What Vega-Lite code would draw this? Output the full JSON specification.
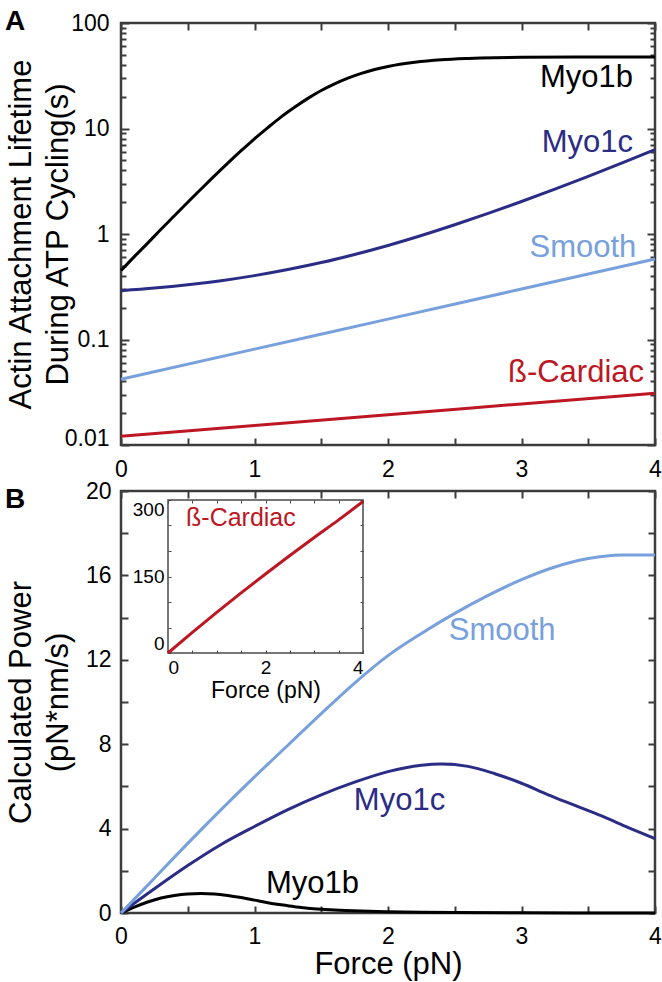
{
  "$schema": "https://vega.github.io/schema/vega-lite/v6.json",
  "padding": {"left": 3, "top": 6, "right": 5, "bottom": 0},
  "background": "white",
  "config": {
    "font": "Liberation Sans",
    "view": {"stroke": "#3c3c3c", "strokeWidth": 2.5},
    "axis": {
      "domain": false, "grid": false, "tickColor": "#3c3c3c", "tickWidth": 2,
      "labelFont": "Liberation Sans", "labelFontSize": 23, "labelColor": "#000000",
      "titleFont": "Liberation Sans", "titleFontSize": 31, "titleFontWeight": "normal", "titleColor": "#000000",
      "labelFlush": false, "labelOverlap": false
    },
    "text": {"font": "Liberation Sans"}
  },
  "datasets": {
    "lifetime": [
      {"series": "Myo1b", "force": 0, "value": 0.45}, {"series": "Myo1b", "force": 0.1, "value": 0.61}, {"series": "Myo1b", "force": 0.2, "value": 0.82},
      {"series": "Myo1b", "force": 0.3, "value": 1.11}, {"series": "Myo1b", "force": 0.4, "value": 1.49}, {"series": "Myo1b", "force": 0.5, "value": 2.0},
      {"series": "Myo1b", "force": 0.6, "value": 2.67}, {"series": "Myo1b", "force": 0.7, "value": 3.56}, {"series": "Myo1b", "force": 0.8, "value": 4.7},
      {"series": "Myo1b", "force": 0.9, "value": 6.16}, {"series": "Myo1b", "force": 1.0, "value": 7.99}, {"series": "Myo1b", "force": 1.1, "value": 10.2},
      {"series": "Myo1b", "force": 1.2, "value": 12.9}, {"series": "Myo1b", "force": 1.3, "value": 15.9}, {"series": "Myo1b", "force": 1.4, "value": 19.3},
      {"series": "Myo1b", "force": 1.5, "value": 22.9}, {"series": "Myo1b", "force": 1.6, "value": 26.5}, {"series": "Myo1b", "force": 1.7, "value": 30.0},
      {"series": "Myo1b", "force": 1.8, "value": 33.3}, {"series": "Myo1b", "force": 1.9, "value": 36.2}, {"series": "Myo1b", "force": 2.0, "value": 38.7},
      {"series": "Myo1b", "force": 2.2, "value": 42.4}, {"series": "Myo1b", "force": 2.4, "value": 44.8}, {"series": "Myo1b", "force": 2.6, "value": 46.1},
      {"series": "Myo1b", "force": 2.8, "value": 46.9}, {"series": "Myo1b", "force": 3.0, "value": 47.3}, {"series": "Myo1b", "force": 3.5, "value": 47.6},
      {"series": "Myo1b", "force": 4.0, "value": 47.7},
      {"series": "Myo1c", "force": 0, "value": 0.29}, {"series": "Myo1c", "force": 0.25, "value": 0.307}, {"series": "Myo1c", "force": 0.5, "value": 0.33},
      {"series": "Myo1c", "force": 0.75, "value": 0.361}, {"series": "Myo1c", "force": 1.0, "value": 0.403}, {"series": "Myo1c", "force": 1.25, "value": 0.46},
      {"series": "Myo1c", "force": 1.5, "value": 0.536}, {"series": "Myo1c", "force": 1.75, "value": 0.64}, {"series": "Myo1c", "force": 2.0, "value": 0.779},
      {"series": "Myo1c", "force": 2.25, "value": 0.968}, {"series": "Myo1c", "force": 2.5, "value": 1.223}, {"series": "Myo1c", "force": 2.75, "value": 1.567},
      {"series": "Myo1c", "force": 3.0, "value": 2.031}, {"series": "Myo1c", "force": 3.25, "value": 2.66}, {"series": "Myo1c", "force": 3.5, "value": 3.52},
      {"series": "Myo1c", "force": 3.75, "value": 4.7}, {"series": "Myo1c", "force": 4.0, "value": 6.3},
      {"series": "Smooth", "force": 0, "value": 0.042}, {"series": "Smooth", "force": 1, "value": 0.081}, {"series": "Smooth", "force": 2, "value": 0.156},
      {"series": "Smooth", "force": 3, "value": 0.301}, {"series": "Smooth", "force": 4, "value": 0.58},
      {"series": "ß-Cardiac", "force": 0, "value": 0.0121}, {"series": "ß-Cardiac", "force": 1, "value": 0.0153}, {"series": "ß-Cardiac", "force": 2, "value": 0.0194},
      {"series": "ß-Cardiac", "force": 3, "value": 0.0245}, {"series": "ß-Cardiac", "force": 4, "value": 0.031}
    ],
    "labelsA": [
      {"series": "Myo1b", "force": 3.835, "value": 24.7},
      {"series": "Myo1c", "force": 3.835, "value": 5.98},
      {"series": "Smooth", "force": 3.86, "value": 0.605},
      {"series": "ß-Cardiac", "force": 3.918, "value": 0.0395}
    ],
    "power": [
      {"series": "Myo1b", "force": 0, "value": 0}, {"series": "Myo1b", "force": 0.1, "value": 0.28}, {"series": "Myo1b", "force": 0.2, "value": 0.52},
      {"series": "Myo1b", "force": 0.3, "value": 0.71}, {"series": "Myo1b", "force": 0.4, "value": 0.83}, {"series": "Myo1b", "force": 0.5, "value": 0.9},
      {"series": "Myo1b", "force": 0.6, "value": 0.92}, {"series": "Myo1b", "force": 0.7, "value": 0.9}, {"series": "Myo1b", "force": 0.8, "value": 0.83},
      {"series": "Myo1b", "force": 0.9, "value": 0.73}, {"series": "Myo1b", "force": 1.0, "value": 0.61}, {"series": "Myo1b", "force": 1.1, "value": 0.49},
      {"series": "Myo1b", "force": 1.2, "value": 0.39}, {"series": "Myo1b", "force": 1.3, "value": 0.3}, {"series": "Myo1b", "force": 1.4, "value": 0.23},
      {"series": "Myo1b", "force": 1.5, "value": 0.18}, {"series": "Myo1b", "force": 1.6, "value": 0.14}, {"series": "Myo1b", "force": 1.8, "value": 0.09},
      {"series": "Myo1b", "force": 2.0, "value": 0.06}, {"series": "Myo1b", "force": 2.25, "value": 0.035}, {"series": "Myo1b", "force": 2.5, "value": 0.02},
      {"series": "Myo1b", "force": 3.0, "value": 0.006}, {"series": "Myo1b", "force": 3.5, "value": 0.002}, {"series": "Myo1b", "force": 4.0, "value": 0.0005},
      {"series": "Myo1c", "force": 0, "value": 0}, {"series": "Myo1c", "force": 0.25, "value": 1.15}, {"series": "Myo1c", "force": 0.5, "value": 2.25},
      {"series": "Myo1c", "force": 0.75, "value": 3.25}, {"series": "Myo1c", "force": 1.0, "value": 4.1}, {"series": "Myo1c", "force": 1.25, "value": 4.9},
      {"series": "Myo1c", "force": 1.5, "value": 5.6}, {"series": "Myo1c", "force": 1.75, "value": 6.2}, {"series": "Myo1c", "force": 2.0, "value": 6.7},
      {"series": "Myo1c", "force": 2.25, "value": 7.0}, {"series": "Myo1c", "force": 2.4, "value": 7.06}, {"series": "Myo1c", "force": 2.6, "value": 6.95},
      {"series": "Myo1c", "force": 2.8, "value": 6.6}, {"series": "Myo1c", "force": 3.0, "value": 6.15}, {"series": "Myo1c", "force": 3.2, "value": 5.6},
      {"series": "Myo1c", "force": 3.4, "value": 5.1}, {"series": "Myo1c", "force": 3.6, "value": 4.6}, {"series": "Myo1c", "force": 3.8, "value": 4.05},
      {"series": "Myo1c", "force": 4.0, "value": 3.52},
      {"series": "Smooth", "force": 0, "value": 0}, {"series": "Smooth", "force": 0.25, "value": 1.65}, {"series": "Smooth", "force": 0.5, "value": 3.3},
      {"series": "Smooth", "force": 0.75, "value": 4.9}, {"series": "Smooth", "force": 1.0, "value": 6.45}, {"series": "Smooth", "force": 1.25, "value": 7.95},
      {"series": "Smooth", "force": 1.5, "value": 9.45}, {"series": "Smooth", "force": 1.75, "value": 10.9}, {"series": "Smooth", "force": 2.0, "value": 12.2},
      {"series": "Smooth", "force": 2.25, "value": 13.25}, {"series": "Smooth", "force": 2.5, "value": 14.2}, {"series": "Smooth", "force": 2.75, "value": 15.05},
      {"series": "Smooth", "force": 3.0, "value": 15.8}, {"series": "Smooth", "force": 3.25, "value": 16.4}, {"series": "Smooth", "force": 3.5, "value": 16.8},
      {"series": "Smooth", "force": 3.75, "value": 16.97}, {"series": "Smooth", "force": 4.0, "value": 16.97}
    ],
    "labelsB": [
      {"series": "Smooth", "force": 2.855, "value": 12.94},
      {"series": "Myo1c", "force": 2.086, "value": 4.9},
      {"series": "Myo1b", "force": 1.434, "value": 0.95}
    ],
    "cardiacPower": [
      {"force": 0, "value": 0}, {"force": 0.5, "value": 40.3}, {"force": 1.0, "value": 79.5}, {"force": 1.5, "value": 117.8},
      {"force": 2.0, "value": 155}, {"force": 2.5, "value": 191.3}, {"force": 3.0, "value": 226.5}, {"force": 3.5, "value": 261}, {"force": 4.0, "value": 297}
    ],
    "labelInset": [
      {"series": "ß-Cardiac", "force": 0.37, "value": 249}
    ]
  },
  "spacing": -5,
  "vconcat": [
    {
      "width": 534,
      "height": 422,
      "title": {"text": "A", "anchor": "start", "frame": "bounds", "fontSize": 28, "fontWeight": "bold", "color": "#000000", "offset": -24},
      "layer": [
        {
          "data": {"name": "lifetime"},
          "transform": [{"filter": "datum.series == 'Myo1b'"}],
          "mark": {"type": "line", "strokeWidth": 3, "interpolate": "monotone"},
          "encoding": {
            "x": {"field": "force", "type": "quantitative",
              "scale": {"domain": [0, 4], "nice": false, "zero": false},
              "axis": {"orient": "bottom", "offset": -7, "tickSize": 7, "labelPadding": 13, "title": null,
                "values": [0, 0.5, 1, 1.5, 2, 2.5, 3, 3.5, 4],
                "labelExpr": "datum.value % 1 == 0 ? format(datum.value, '~g') : ''"}},
            "y": {"field": "value", "type": "quantitative",
              "scale": {"type": "log", "domain": [0.01, 100], "nice": false},
              "axis": {"orient": "left", "offset": -8, "tickSize": 8, "labelPadding": 12,
                "title": ["Actin Attachment Lifetime", "During ATP Cycling(s)"],
                "titleLineHeight": 37, "titlePadding": 7, "minExtent": 48, "maxExtent": 48,
                "values": [0.01, 0.1, 1, 10, 100],
                "labelExpr": "datum.value == 0.01 ? '0.01' : datum.value == 0.1 ? '0.1' : datum.value == 1 ? '1' : datum.value == 10 ? '10' : '100'",
                "labelBaseline": {"condition": {"test": "datum.value == 0.01", "value": "alphabetic"}, "value": "middle"}}},
            "color": {"field": "series", "type": "nominal",
              "scale": {"domain": ["Myo1b", "Myo1c", "Smooth", "ß-Cardiac"], "range": ["#000000", "#2b2c85", "#77a0dc", "#bd1723"]},
              "legend": null}
          }
        },
        {
          "data": {"name": "lifetime"},
          "transform": [{"filter": "datum.series == 'Myo1c'"}],
          "mark": {"type": "line", "strokeWidth": 3, "interpolate": "monotone"},
          "encoding": {
            "x": {"field": "force", "type": "quantitative",
              "axis": {"orient": "top", "offset": -7, "tickSize": 7, "labels": false, "title": null,
                "values": [0, 0.5, 1, 1.5, 2, 2.5, 3, 3.5, 4]}},
            "y": {"field": "value", "type": "quantitative",
              "axis": {"orient": "right", "offset": -8, "tickSize": 8, "labels": false, "title": null,
                "values": [0.01, 0.1, 1, 10, 100]}},
            "color": {"field": "series", "type": "nominal", "legend": null}
          }
        },
        {
          "data": {"name": "lifetime"},
          "transform": [{"filter": "datum.series == 'Smooth'"}],
          "mark": {"type": "line", "strokeWidth": 3, "interpolate": "monotone"},
          "encoding": {
            "x": {"field": "force", "type": "quantitative", "axis": null},
            "y": {"field": "value", "type": "quantitative",
              "axis": {"orient": "left", "offset": -5, "tickSize": 5, "labels": false, "title": null,
                "values": [0.02, 0.03, 0.04, 0.05, 0.06, 0.07, 0.08, 0.09, 0.2, 0.3, 0.4, 0.5, 0.6, 0.7, 0.8, 0.9, 2, 3, 4, 5, 6, 7, 8, 9, 20, 30, 40, 50, 60, 70, 80, 90]}},
            "color": {"field": "series", "type": "nominal", "legend": null}
          }
        },
        {
          "data": {"name": "lifetime"},
          "transform": [{"filter": "datum.series == 'ß-Cardiac'"}],
          "mark": {"type": "line", "strokeWidth": 3, "interpolate": "monotone"},
          "encoding": {
            "x": {"field": "force", "type": "quantitative", "axis": null},
            "y": {"field": "value", "type": "quantitative",
              "axis": {"orient": "right", "offset": -5, "tickSize": 5, "labels": false, "title": null,
                "values": [0.02, 0.03, 0.04, 0.05, 0.06, 0.07, 0.08, 0.09, 0.2, 0.3, 0.4, 0.5, 0.6, 0.7, 0.8, 0.9, 2, 3, 4, 5, 6, 7, 8, 9, 20, 30, 40, 50, 60, 70, 80, 90]}},
            "color": {"field": "series", "type": "nominal", "legend": null}
          }
        },
        {
          "data": {"name": "labelsA"},
          "mark": {"type": "text", "align": "right", "baseline": "alphabetic", "fontSize": 31},
          "encoding": {
            "x": {"field": "force", "type": "quantitative", "axis": null},
            "y": {"field": "value", "type": "quantitative", "axis": null},
            "text": {"field": "series", "type": "nominal"},
            "color": {"field": "series", "type": "nominal", "legend": null}
          }
        }
      ],
      "resolve": {"axis": {"x": "independent", "y": "independent"}}
    },
    {
      "width": 534,
      "height": 422,
      "title": {"text": "B", "anchor": "start", "frame": "bounds", "fontSize": 28, "fontWeight": "bold", "color": "#000000", "offset": -34},
      "layer": [
        {
          "data": {"name": "power"},
          "mark": {"type": "line", "strokeWidth": 3, "interpolate": "monotone"},
          "encoding": {
            "x": {"field": "force", "type": "quantitative",
              "scale": {"domain": [0, 4], "nice": false, "zero": false},
              "axis": {"orient": "bottom", "offset": -7, "tickSize": 7, "labelPadding": 12,
                "title": "Force (pN)", "titlePadding": 1,
                "values": [0, 0.5, 1, 1.5, 2, 2.5, 3, 3.5, 4],
                "labelExpr": "datum.value % 1 == 0 ? format(datum.value, '~g') : ''"}},
            "y": {"field": "value", "type": "quantitative",
              "scale": {"domain": [0, 20], "nice": false},
              "axis": {"orient": "left", "offset": -7, "tickSize": 7, "labelPadding": 10,
                "title": ["Calculated Power", "(pN*nm/s)"],
                "titleLineHeight": 37, "titlePadding": 7, "minExtent": 47, "maxExtent": 47,
                "values": [0, 2, 4, 6, 8, 10, 12, 14, 16, 18, 20],
                "labelExpr": "datum.value % 4 == 0 ? format(datum.value, '~g') : ''"}},
            "color": {"field": "series", "type": "nominal",
              "scale": {"domain": ["Myo1b", "Myo1c", "Smooth", "ß-Cardiac"], "range": ["#000000", "#2b2c85", "#77a0dc", "#bd1723"]},
              "legend": null}
          }
        },
        {
          "data": {"name": "labelsB"},
          "mark": {"type": "text", "align": "center", "baseline": "alphabetic", "fontSize": 31},
          "encoding": {
            "x": {"field": "force", "type": "quantitative",
              "scale": {"domain": [0, 4], "nice": false, "zero": false},
              "axis": {"orient": "top", "offset": -7, "tickSize": 7, "labels": false, "title": null,
                "values": [0, 0.5, 1, 1.5, 2, 2.5, 3, 3.5, 4]}},
            "y": {"field": "value", "type": "quantitative",
              "scale": {"domain": [0, 20], "nice": false},
              "axis": {"orient": "right", "offset": -7, "tickSize": 7, "labels": false, "title": null,
                "values": [0, 2, 4, 6, 8, 10, 12, 14, 16, 18, 20]}},
            "text": {"field": "series", "type": "nominal"},
            "color": {"field": "series", "type": "nominal",
              "scale": {"domain": ["Myo1b", "Myo1c", "Smooth", "ß-Cardiac"], "range": ["#000000", "#2b2c85", "#77a0dc", "#bd1723"]},
              "legend": null}
          }
        },
        {
          "data": {"name": "labelInset"},
          "mark": {"type": "rect", "fillOpacity": 0, "stroke": "#4a4a4a", "strokeWidth": 1.5},
          "encoding": {
            "x": {"datum": 0, "type": "quantitative",
              "scale": {"domain": [0, 4], "nice": false, "zero": false, "range": [47, 242]}, "axis": null},
            "x2": {"datum": 4},
            "y": {"datum": 0, "type": "quantitative",
              "scale": {"domain": [0, 300], "nice": false, "range": [162, 9]}, "axis": null},
            "y2": {"datum": 300}
          }
        },
        {
          "data": {"name": "cardiacPower"},
          "mark": {"type": "line", "strokeWidth": 3, "color": "#bd1723", "interpolate": "monotone"},
          "encoding": {
            "x": {"field": "force", "type": "quantitative",
              "scale": {"domain": [0, 4], "nice": false, "zero": false, "range": [47, 242]},
              "axis": {"orient": "bottom", "offset": -263, "tickSize": 3, "tickWidth": 1, "tickColor": "#4a4a4a",
                "labelPadding": 5, "labelFontSize": 19, "labelFlush": true,
                "title": "Force (pN)", "titleFontSize": 23, "titlePadding": 2,
                "values": [0, 0.5, 1, 1.5, 2, 2.5, 3, 3.5, 4],
                "labelExpr": "datum.value % 2 == 0 ? format(datum.value, '~g') : ''"}},
            "y": {"field": "value", "type": "quantitative",
              "scale": {"domain": [0, 300], "nice": false, "range": [162, 9]},
              "axis": {"orient": "left", "offset": -50, "tickSize": 3, "tickWidth": 1, "tickColor": "#4a4a4a",
                "labelPadding": 4, "labelFontSize": 19, "labelFlush": true, "title": null,
                "values": [0, 50, 100, 150, 200, 250, 300],
                "labelExpr": "datum.value % 150 == 0 ? format(datum.value, '~g') : ''"}}
          }
        },
        {
          "data": {"name": "labelInset"},
          "mark": {"type": "text", "align": "left", "baseline": "alphabetic", "fontSize": 25, "color": "#bd1723"},
          "encoding": {
            "x": {"field": "force", "type": "quantitative",
              "scale": {"domain": [0, 4], "nice": false, "zero": false, "range": [47, 242]},
              "axis": {"orient": "top", "offset": -12, "tickSize": 3, "tickWidth": 1, "tickColor": "#4a4a4a",
                "labels": false, "title": null, "values": [0, 0.5, 1, 1.5, 2, 2.5, 3, 3.5, 4]}},
            "y": {"field": "value", "type": "quantitative",
              "scale": {"domain": [0, 300], "nice": false, "range": [162, 9]},
              "axis": {"orient": "right", "offset": -295, "tickSize": 3, "tickWidth": 1, "tickColor": "#4a4a4a",
                "labels": false, "title": null, "values": [0, 50, 100, 150, 200, 250, 300]}},
            "text": {"field": "series", "type": "nominal"}
          }
        }
      ],
      "resolve": {
        "scale": {"x": "independent", "y": "independent", "color": "independent"},
        "axis": {"x": "independent", "y": "independent"}
      }
    }
  ]
}
